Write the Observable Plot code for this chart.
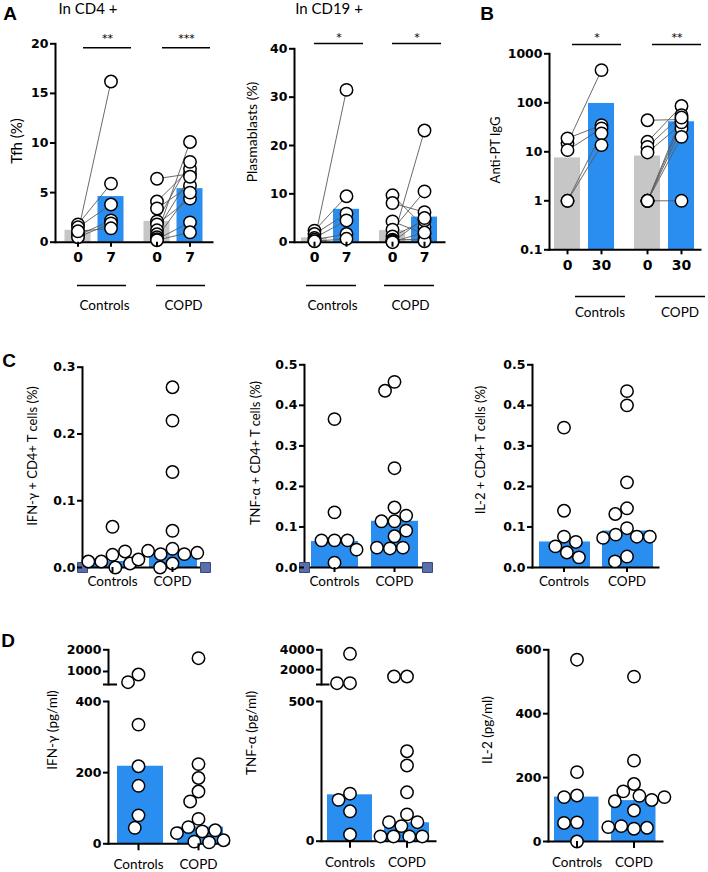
<!DOCTYPE html>
<html><head><meta charset="utf-8">
<script src="https://cdn.jsdelivr.net/npm/d3@7"></script>
<script src="https://cdn.jsdelivr.net/npm/@observablehq/plot@0.6"></script>
<style>
body{margin:0;background:#fff;}
#fig{position:relative;width:708px;height:872px;overflow:hidden;background:#fff;}
.lbl{position:absolute;white-space:nowrap;color:#000;line-height:1;}
</style></head>
<body><div id="fig"></div>
<script>
// ---------- DATA ----------
const groups = ["Controls", "COPD"];
// A: Tfh (%) in CD4+
const tfhTimes = ["0", "7"];
const tfhCtrlDay0 = [1.0, 1.8, 1.5, 0.7, 0.5, 1.1];
const tfhCtrlDay7 = [16.2, 5.9, 3.8, 2.2, 1.9, 1.4];
const tfhCopdDay0 = [6.4, 4.1, 3.4, 2.1, 1.8, 1.2, 0.8, 0.5, 0.3, 0.2];
const tfhCopdDay7 = [6.9, 7.4, 5.7, 8.1, 4.4, 6.6, 10.1, 5.0, 2.0, 1.0];
const tfhBars = [1.2, 4.6, 2.1, 5.4];
const tfhSig = ["**", "***"];
// A: Plasmablasts (%) in CD19+
const plasCtrlDay0 = [0.3, 2.4, 1.7, 0.9, 0.5, 0.2];
const plasCtrlDay7 = [31.5, 9.5, 5.9, 4.5, 1.7, 0.7];
const plasCopdDay0 = [9.7, 8.1, 4.3, 2.6, 1.2, 0.5, 0.3, 0.2, 0.1, 0.0];
const plasCopdDay7 = [3.1, 6.2, 1.7, 10.5, 4.5, 0.6, 23.1, 0.2, 2.0, 5.0];
const plasBars = [0.9, 6.8, 2.4, 5.2];
const plasSig = ["*", "*"];
// B: Anti-PT IgG
const iggTimes = ["0", "30"];
const iggCtrlDay0 = [15, 18.8, 10.8, 1, 1];
const iggCtrlDay30 = [465, 35, 30, 23.8, 13.7];
const iggCopdDay0 = [44, 16, 12.6, 9.7, 1, 1, 1, 1, 1];
const iggCopdDay30 = [45.6, 86, 56, 36.7, 1, 30, 20.2, 40, 50];
const iggBars = [7.5, 97, 8.2, 41];
const iggSig = ["*", "**"];
// C: % cytokine+ CD4+ T cells
const ifnPctCtrl = [0.061, 0.019, 0.009, 0.024, 0.006, 0.009, 0.0];
const ifnPctCopd = [0.27, 0.22, 0.143, 0.055, 0.028, 0.02, 0.02, 0.022, 0.025, 0.012, 0.006, 0.0];
const ifnPctBars = [0.009, 0.022];
const tnfPctCtrl = [0.366, 0.136, 0.067, 0.067, 0.067, 0.044, 0.012];
const tnfPctCopd = [0.458, 0.436, 0.245, 0.148, 0.114, 0.114, 0.128, 0.077, 0.091, 0.047, 0.049, 0.049];
const tnfPctBars = [0.064, 0.114];
const il2PctCtrl = [0.345, 0.14, 0.076, 0.052, 0.063, 0.037, 0.025];
const il2PctCopd = [0.435, 0.40, 0.21, 0.146, 0.132, 0.097, 0.081, 0.076, 0.076, 0.073, 0.027, 0.015];
const il2PctBars = [0.063, 0.09];
// D: cytokines (pg/ml)
const ifnPgCtrl = [861, 506, 335, 218, 163, 80, 45];
const ifnPgCopd = [1613, 224, 185, 147, 119, 70, 47, 35, 38, 30, 6, 10, 4];
const ifnPgBars = [218, 47];
const tnfPgCtrl = [3597, 631, 631, 170, 148, 107, 24];
const tnfPgCopd = [1307, 1307, 322, 271, 175, 96, 54, 68, 68, 17, 17, 17, 17];
const tnfPgBars = [166, 66];
const il2PgCtrl = [569, 217, 144, 139, 60, 58, 0];
const il2PgCopd = [516, 253, 180, 157, 143, 130, 126, 139, 97, 40, 48, 43, 45];
const il2PgBars = [139, 128];

// ---------- HELPERS ----------
const BLUE = "#2a8ef0", GRAY = "#c6c6c6";
const fig = document.getElementById("fig");
const baseStyle = {fontFamily: "DejaVu Sans", fontSize: "12.5px", fontWeight: "bold", color: "black", background: "transparent", overflow: "visible"};

function place(node, left, top) {
  node.style.position = "absolute";
  node.style.left = left + "px";
  node.style.top = top + "px";
  fig.appendChild(node);
}
function label(text, x, y, o = {}) {
  const d = document.createElement("div");
  d.className = "lbl";
  d.textContent = text;
  Object.assign(d.style, {
    left: x + "px", top: y + "px",
    fontSize: (o.size || 12) + "px",
    fontWeight: o.bold ? "bold" : "normal",
    fontFamily: o.font || "Lato",
    transform: "translate(-50%,-50%)" + (o.rotate ? " rotate(-90deg)" : "")
  });
  fig.appendChild(d);
}
function pairRecords(times, ctrl0, ctrl1, copd0, copd1) {
  const out = [];
  [[groups[0], ctrl0, ctrl1], [groups[1], copd0, copd1]].forEach(([g, a, b]) => {
    a.forEach((v, i) => {
      out.push({group: g, subject: g + i, time: times[0], value: v});
      out.push({group: g, subject: g + i, time: times[1], value: b[i]});
    });
  });
  return out;
}
function barRecords(times, b) {
  return [
    {group: groups[0], time: times[0], value: b[0]}, {group: groups[0], time: times[1], value: b[1]},
    {group: groups[1], time: times[0], value: b[2]}, {group: groups[1], time: times[1], value: b[3]}
  ];
}
function valueRecords(ctrl, copd) {
  return ctrl.map(v => ({group: groups[0], value: v})).concat(copd.map(v => ({group: groups[1], value: v})));
}

function paired(c) {
  const [left, top] = c.pos, [w, h] = c.size, [mt, mr, mb, ml] = c.m;
  const type = c.type || "linear";
  const base = type === "log" ? c.domain[0] : 0;
  const sig = groups.map((g, i) => ({group: g, stars: c.sig[i]}));
  const [sl, sr] = c.sigInset, [ul, ur] = c.underInset;
  const svg = Plot.plot({
    width: w, height: h, marginTop: mt, marginRight: mr, marginBottom: mb, marginLeft: ml,
    style: baseStyle,
    fx: {domain: groups, paddingInner: c.fxPad, paddingOuter: 0, axis: null, label: null},
    x: {domain: c.times, paddingInner: c.xPad[0], paddingOuter: c.xPad[1], label: null},
    y: {type, domain: c.domain, label: null},
    marks: [
      Plot.barY(c.bars.filter(d => d.time === c.times[0]), {fx: "group", x: "time", y1: base, y2: "value", fill: GRAY}),
      Plot.barY(c.bars.filter(d => d.time === c.times[1]), {fx: "group", x: "time", y1: base, y2: "value", fill: BLUE}),
      Plot.line(c.records, {fx: "group", x: "time", y: "value", z: "subject", stroke: "#5a5a5a", strokeWidth: 0.9}),
      Plot.frame({anchor: "left", facet: "super", strokeWidth: 2}),
      Plot.frame({anchor: "bottom", facet: "super", strokeWidth: 2}),
      Plot.dot(c.records, {fx: "group", x: "time", y: "value", r: 6.2, fill: "white", stroke: "black", strokeWidth: 1.5}),
      Plot.axisY({ticks: c.ticks, tickFormat: d => String(d), tickSize: 5, tickPadding: 2, strokeWidth: 2, label: null}),
      Plot.axisX({tickSize: 5, tickPadding: 5, strokeWidth: 2, fontSize: 14, label: null}),
      Plot.ruleY(sig, {fx: "group", y: c.domain[1], dy: c.sigDy, insetLeft: sl, insetRight: sr, strokeWidth: 1.5}),
      Plot.text(sig, {fx: "group", text: "stars", frameAnchor: "top", dy: c.starDy, dx: (sl - sr) / 2, fontFamily: "DejaVu Sans", fontWeight: "normal", fontSize: 11}),
      Plot.ruleY(groups, {fx: d => d, y: base, dy: c.underDy, insetLeft: ul, insetRight: ur, strokeWidth: 1.5}),
      Plot.text(groups, {fx: d => d, text: d => d, frameAnchor: "bottom", dy: c.labelDy, dx: c.labelDx, fontFamily: "Lato", fontWeight: "normal", fontSize: 13.5})
    ]
  });
  place(svg, left, top);
}

function dotBar(c) {
  const [left, top] = c.pos, [w, h] = c.size, [mt, mr, mb, ml] = c.m;
  const xAxis = c.xAxis !== false;
  const facetW = (w - ml - mr) / 2;
  const vals = c.values.filter(d => d.value >= c.domain[0] && d.value <= c.domain[1]);
  const marks = [];
  if (c.bars) marks.push(Plot.barY(c.bars, {fx: "group", y: "value", fill: BLUE, insetLeft: c.inset[0], insetRight: c.inset[1]}));
  marks.push(Plot.frame({anchor: "left", facet: "super", strokeWidth: 2}));
  if (xAxis) marks.push(Plot.frame({anchor: "bottom", facet: "super", strokeWidth: 2}));
  if (c.cap) marks.push(Plot.ruleY([{group: groups[0]}], {fx: "group", y: c.domain[0], insetLeft: -5, insetRight: facetW - 9, strokeWidth: 2}));
  if (c.squares) {
    const sq = {facet: "super", symbol: "square", r: 5.6, fill: "#5d6fa9", stroke: "#34447a", strokeWidth: 1};
    marks.push(Plot.dot([0], {...sq, frameAnchor: "bottom-left"}));
    marks.push(Plot.dot([0], {...sq, frameAnchor: "bottom-right", dx: 3}));
  }
  marks.push(Plot.dot(vals, Plot.dodgeX({anchor: "middle", padding: 0.6}, {fx: "group", y: "value", r: 6.2, fill: "white", stroke: "black", strokeWidth: 1.5})));
  marks.push(Plot.axisY({ticks: c.ticks, tickFormat: c.fmt || (d => String(d)), tickSize: 5, tickPadding: 2, strokeWidth: 2, label: null}));
  if (xAxis) marks.push(Plot.axisFx({anchor: "bottom", tickSize: c.tickSize || 5, tickPadding: c.tickPad || 4, strokeWidth: 2, fontFamily: "Lato", fontWeight: "normal", fontSize: 13.5, label: null}));
  const svg = Plot.plot({
    width: w, height: h, marginTop: mt, marginRight: mr, marginBottom: mb, marginLeft: ml,
    style: baseStyle,
    fx: xAxis ? {domain: groups, paddingInner: 0, paddingOuter: 0, label: null} : {domain: groups, paddingInner: 0, paddingOuter: 0, axis: null, label: null},
    y: {domain: c.domain, label: null},
    marks
  });
  place(svg, left, top);
}

// ---------- PANEL A ----------
paired({
  pos: [0, 0], size: [240, 320], m: [43.3, 26.5, 78.3, 54.5],
  domain: [0, 20], ticks: [0, 5, 10, 15, 20], times: tfhTimes,
  records: pairRecords(tfhTimes, tfhCtrlDay0, tfhCtrlDay7, tfhCopdDay0, tfhCopdDay7),
  bars: barRecords(tfhTimes, tfhBars), sig: tfhSig,
  fxPad: 0.01, xPad: [0.2, 0.27],
  sigDy: 4, starDy: -10, sigInset: [28, 2],
  underDy: 43.3, underInset: [22, 7], labelDy: 68, labelDx: 10
});
paired({
  pos: [240, 0], size: [240, 320], m: [48.3, 36, 78.3, 54],
  domain: [0, 40], ticks: [0, 10, 20, 30, 40], times: tfhTimes,
  records: pairRecords(tfhTimes, plasCtrlDay0, plasCtrlDay7, plasCopdDay0, plasCopdDay7),
  bars: barRecords(tfhTimes, plasBars), sig: plasSig,
  fxPad: 0.077, xPad: [0.19, 0.22],
  sigDy: -5.3, starDy: -16, sigInset: [20, 3],
  underDy: 43.3, underInset: [12, 10], labelDy: 68, labelDx: 2
});
// ---------- PANEL B ----------
paired({
  pos: [480, 0], size: [228, 330], m: [53.3, 8, 80.7, 69],
  type: "log", domain: [0.1, 1000], ticks: [0.1, 1, 10, 100, 1000], times: iggTimes,
  records: pairRecords(iggTimes, iggCtrlDay0, iggCtrlDay30, iggCopdDay0, iggCopdDay30),
  bars: barRecords(iggTimes, iggBars), sig: iggSig,
  fxPad: 0.1125, xPad: [0.23, 0.13],
  sigDy: -9.3, starDy: -21, sigInset: [23, -1],
  underDy: 46.7, underInset: [26, -5], labelDy: 66.7, labelDx: 15
});
// ---------- PANEL C ----------
dotBar({pos: [0, 330], size: [240, 270], m: [36.7, 38, 33, 81], domain: [0, 0.3], ticks: [0, 0.1, 0.2, 0.3], fmt: d3.format(".1f"),
  values: valueRecords(ifnPctCtrl, ifnPctCopd), bars: groups.map((g, i) => ({group: g, value: ifnPctBars[i]})), inset: [7, 5], squares: true});
dotBar({pos: [240, 330], size: [240, 270], m: [34.3, 56, 33, 63], domain: [0, 0.5], ticks: [0, 0.1, 0.2, 0.3, 0.4, 0.5], fmt: d3.format(".1f"),
  values: valueRecords(tnfPctCtrl, tnfPctCopd), bars: groups.map((g, i) => ({group: g, value: tnfPctBars[i]})), inset: [7, 6], squares: true});
dotBar({pos: [470, 330], size: [238, 270], m: [34.3, 50, 33, 62], domain: [0, 0.5], ticks: [0, 0.1, 0.2, 0.3, 0.4, 0.5], fmt: d3.format(".1f"),
  values: valueRecords(il2PctCtrl, il2PctCopd), bars: groups.map((g, i) => ({group: g, value: il2PctBars[i]})), inset: [7, 5]});
// ---------- PANEL D ----------
dotBar({pos: [0, 640], size: [240, 50], m: [9.3, 12, 6, 108], domain: [400, 2000], ticks: [1000, 2000],
  values: valueRecords(ifnPgCtrl, ifnPgCopd), xAxis: false, cap: true});
dotBar({pos: [0, 690], size: [240, 182], m: [11, 12, 28.7, 108], domain: [0, 400], ticks: [0, 200, 400],
  values: valueRecords(ifnPgCtrl, ifnPgCopd), bars: groups.map((g, i) => ({group: g, value: ifnPgBars[i]})), inset: [9, 5], tickSize: 7, tickPad: 9});
dotBar({pos: [240, 640], size: [240, 50], m: [9.3, 45, 6, 80], domain: [500, 4000], ticks: [2000, 4000],
  values: valueRecords(tnfPgCtrl, tnfPgCopd), xAxis: false, cap: true});
dotBar({pos: [240, 690], size: [240, 182], m: [11, 45, 31.3, 80], domain: [0, 500], ticks: [0, 500],
  values: valueRecords(tnfPgCtrl, tnfPgCopd), bars: groups.map((g, i) => ({group: g, value: tnfPgBars[i]})), inset: [6, 6], tickSize: 7, tickPad: 9});
dotBar({pos: [470, 640], size: [238, 232], m: [9.3, 46, 31, 77], domain: [0, 600], ticks: [0, 200, 400, 600],
  values: valueRecords(il2PgCtrl, il2PgCopd), bars: groups.map((g, i) => ({group: g, value: il2PgBars[i]})), inset: [6, 6.5], tickSize: 7, tickPad: 9});

// ---------- TEXT ----------
label("A", 10, 13, {size: 19, bold: true, font: "Liberation Sans"});
label("B", 487, 13, {size: 19, bold: true, font: "Liberation Sans"});
label("C", 9, 360, {size: 19, bold: true, font: "Liberation Sans"});
label("D", 8, 640, {size: 19, bold: true, font: "Liberation Sans"});
label("In CD4 +", 88, 8, {size: 15});
label("In CD19 +", 329, 8, {size: 15});
label("Tfh (%)", 16, 141, {size: 15, rotate: true});
label("Plasmablasts (%)", 252, 132, {size: 14, rotate: true});
label("Anti-PT IgG", 495, 150, {size: 13, rotate: true});
label("IFN-γ + CD4+ T cells (%)", 32, 456, {size: 13, rotate: true});
label("TNF-α + CD4+ T cells (%)", 255, 453, {size: 13, rotate: true});
label("IL-2 +  CD4+ T cells (%)", 480, 450, {size: 13, rotate: true});
label("IFN-γ (pg/ml)", 53, 730, {size: 13.5, rotate: true});
label("TNF-α (pg/ml)", 252, 733, {size: 13.5, rotate: true});
label("IL-2 (pg/ml)", 488, 730, {size: 13.5, rotate: true});
</script>
</body></html>
